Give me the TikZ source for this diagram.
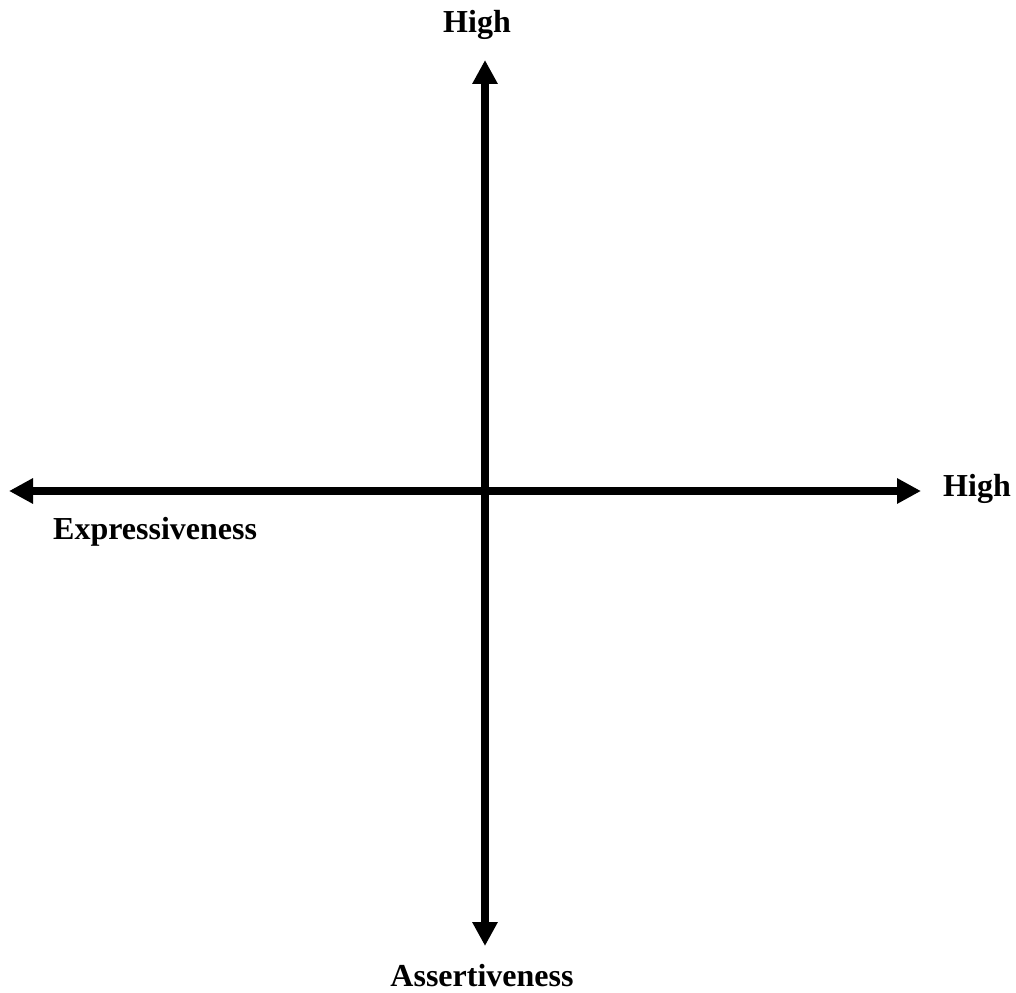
\documentclass[tikz,border=0pt]{standalone}
\usepackage{fontspec}
\setmainfont{Liberation Serif}
\usetikzlibrary{arrows.meta}
\begin{document}
\begin{tikzpicture}[x=1pt,y=-1pt,
  axis/.style={line width=8pt,-{Triangle[length=24pt,width=24pt]}},
  lbl/.style={font=\fontsize{32}{38}\selectfont\bfseries,inner sep=0pt}]
\useasboundingbox (0,0) rectangle (1016,992);
\coordinate (c) at (485,491);
\coordinate (top) at (485,60);
\coordinate (bot) at (485,946);
\coordinate (lft) at (9,491);
\coordinate (rgt) at (921,491);
\draw[axis] (c) -- (top);
\draw[axis] (c) -- (bot);
\draw[axis] (c) -- (lft);
\draw[axis] (c) -- (rgt);
\node[lbl,anchor=base] (hightop) at (477,33) {High};
\node[lbl,anchor=base west] (highright) at (943,496) {High};
\node[lbl,anchor=base west] (expr) at (53,539) {Expressiveness};
\node[lbl,anchor=base] (assert) at (482,986) {Assertiveness};
\end{tikzpicture}
\end{document}
